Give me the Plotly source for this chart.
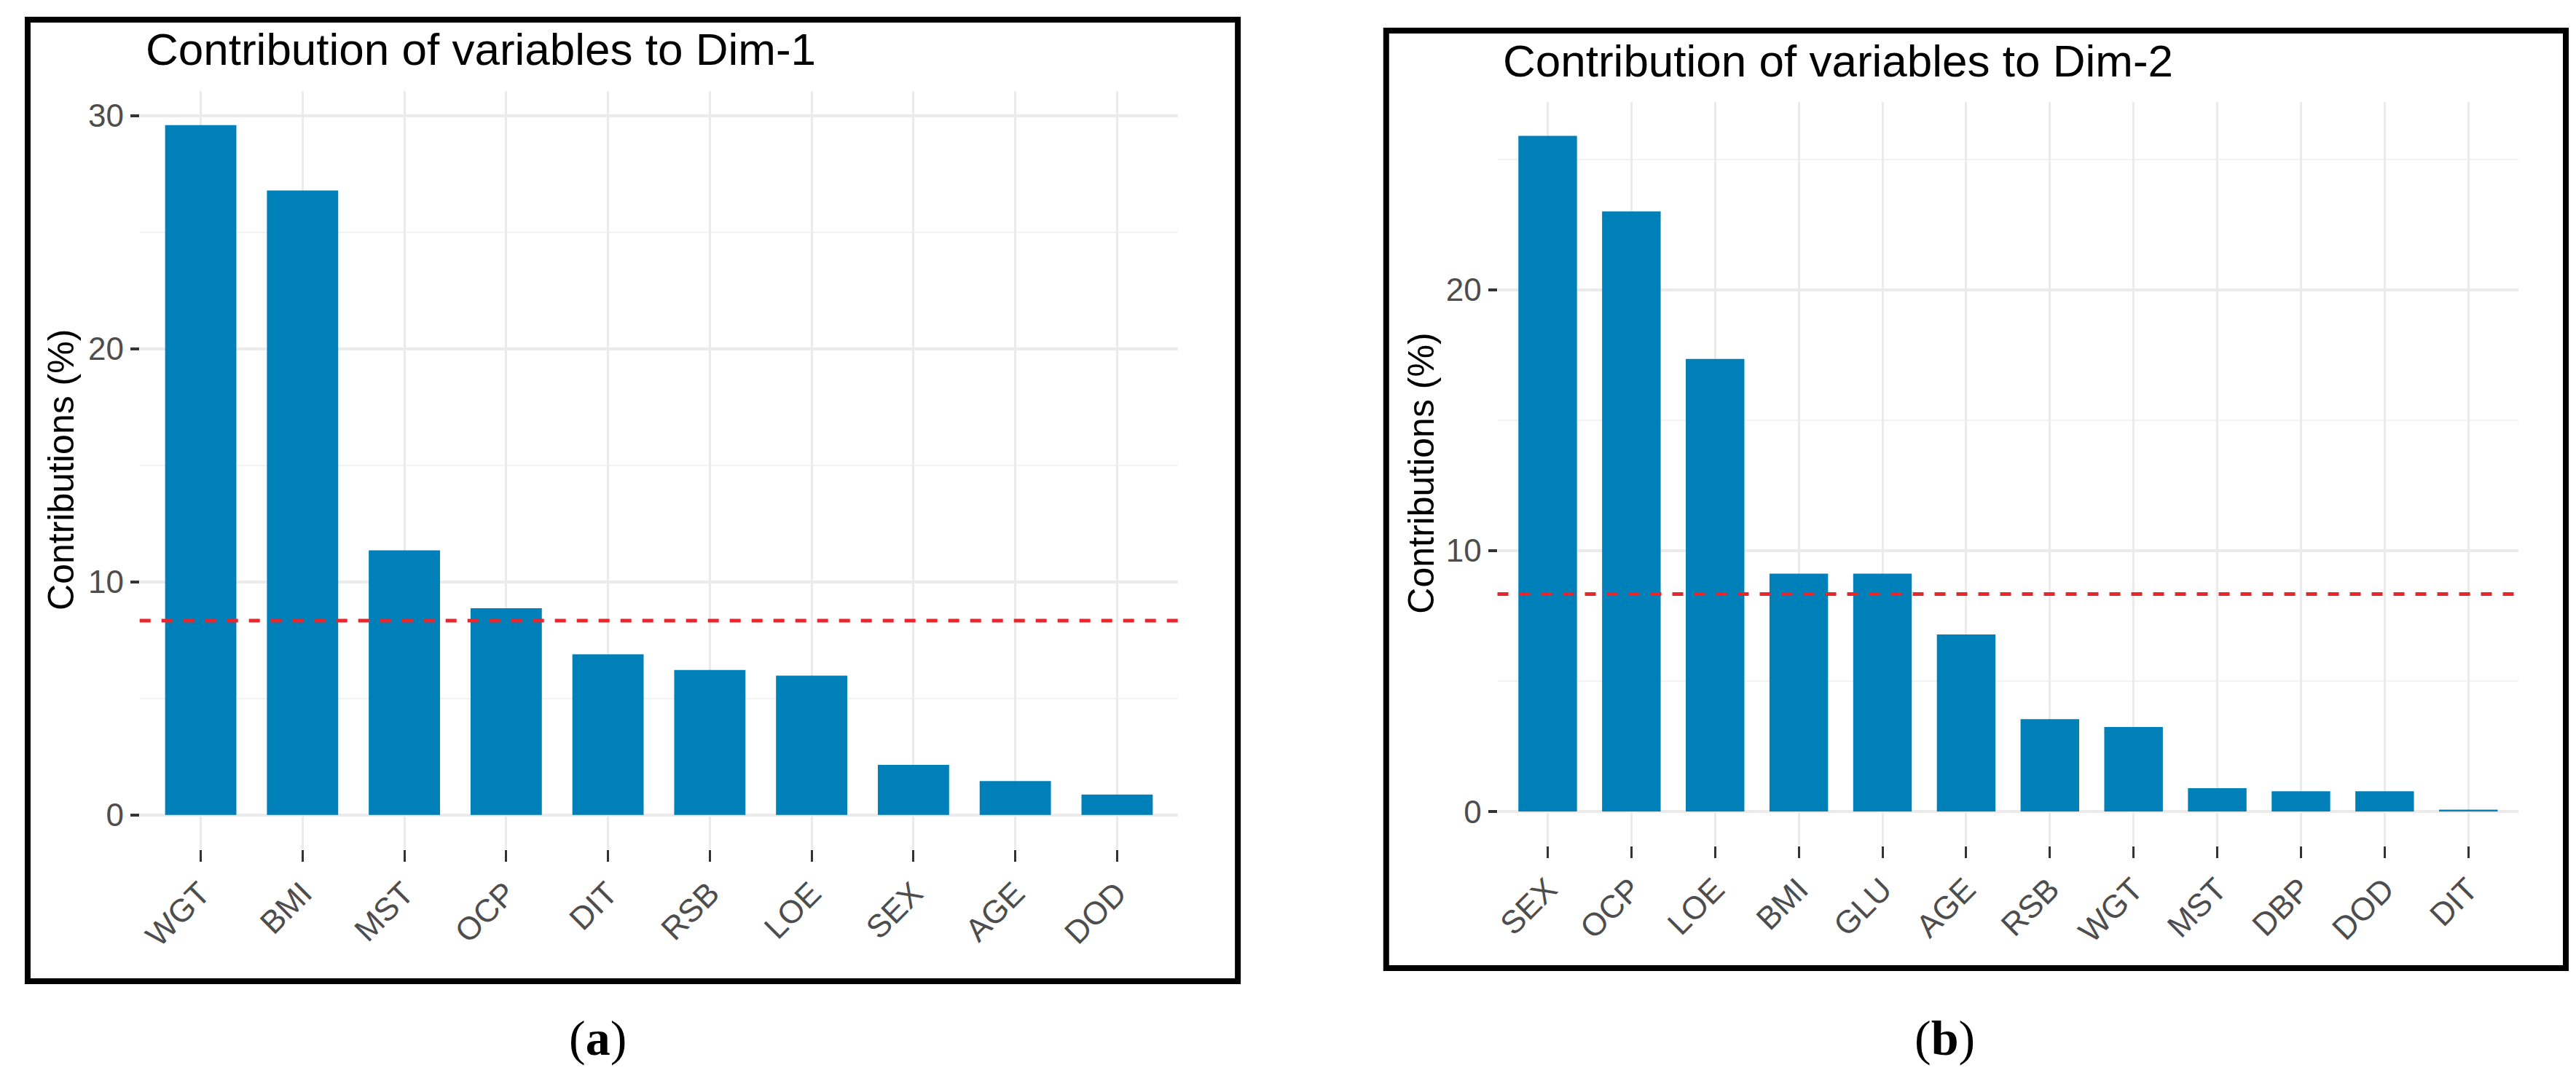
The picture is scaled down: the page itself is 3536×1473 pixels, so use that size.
import plotly.graph_objects as go

# ---------------- data ----------------
vars_dim1 = ["WGT", "BMI", "MST", "OCP", "DIT", "RSB", "LOE", "SEX", "AGE", "DOD"]
contrib_dim1 = [29.6, 26.8, 11.35, 8.87, 6.89, 6.22, 5.98, 2.15, 1.45, 0.87]

vars_dim2 = ["SEX", "OCP", "LOE", "BMI", "GLU", "AGE", "RSB", "WGT", "MST", "DBP", "DOD", "DIT"]
contrib_dim2 = [25.9, 23.0, 17.35, 9.12, 9.12, 6.79, 3.54, 3.24, 0.90, 0.78, 0.78, 0.07]

n_variables = 12
expected_contrib = 100.0 / n_variables

title_dim1 = "Contribution of variables to Dim-1"
title_dim2 = "Contribution of variables to Dim-2"
y_title = "Contributions (%)"

# ---------------- layout helpers ----------------
W, H = 3536, 1473
BAR = "#0080B8"
GRID = "#EBEBEB"
FONT = "Liberation Sans, Arial, sans-serif"


def px(x):
    return x / W


def py(y):
    return 1 - y / H


fig = go.Figure()

fig.add_trace(go.Bar(x=vars_dim1, y=contrib_dim1, width=0.7, marker=dict(color=BAR, line=dict(width=0)),
                     xaxis="x", yaxis="y", showlegend=False))
fig.add_trace(go.Bar(x=vars_dim2, y=contrib_dim2, width=0.7, marker=dict(color=BAR, line=dict(width=0)),
                     xaxis="x2", yaxis="y2", showlegend=False))


def xaxis_cfg(domain, anchor, n):
    return dict(domain=domain, anchor=anchor, type="category", range=[-0.6, n - 1 + 0.6],
                showgrid=True, gridcolor=GRID, gridwidth=3, zeroline=False, showline=False,
                ticks="outside", ticklen=16, tickwidth=3, tickcolor="#333333",
                tickangle=-45, tickfont=dict(family=FONT, size=44, color="#4D4D4D"))


def yaxis_cfg(domain, anchor, vals):
    m = max(vals)
    return dict(domain=domain, anchor=anchor, range=[-0.05 * m, 1.05 * m],
                tickvals=[0, 10, 20, 30], showgrid=True, gridcolor=GRID, gridwidth=4,
                zeroline=False, showline=False,
                ticks="outside", ticklen=12, tickwidth=4, tickcolor="#333333",
                tickfont=dict(family=FONT, size=44, color="#4D4D4D"),
                minor=dict(dtick=5, tick0=0, showgrid=True, gridcolor="#F2F2F2", gridwidth=2, ticks=""))


fig.update_layout(
    width=W, height=H,
    margin=dict(l=0, r=0, t=0, b=0),
    paper_bgcolor="white", plot_bgcolor="white",
    xaxis=xaxis_cfg([px(178), px(1606)], "y", len(vars_dim1)),
    yaxis=yaxis_cfg([py(1158), py(116.5)], "x", contrib_dim1),
    xaxis2=xaxis_cfg([px(2045), px(3449)], "y2", len(vars_dim2)),
    yaxis2=yaxis_cfg([py(1152.5), py(132)], "x2", contrib_dim2),
    bargap=0.3,
)

# expected-contribution reference lines
for xr, yr in (("x domain", "y"), ("x2 domain", "y2")):
    fig.add_shape(type="line", xref=xr, yref=yr, x0=0, x1=1, y0=expected_contrib, y1=expected_contrib,
                  line=dict(color="#E8262B", width=5, dash="dash"), layer="above")

# panel borders
fig.add_shape(type="rect", xref="paper", yref="paper", x0=px(24), x1=px(1688), y0=py(1339), y1=py(19),
              line=dict(color="black", width=8), layer="above")
fig.add_shape(type="rect", xref="paper", yref="paper", x0=px(1892), x1=px(3514), y0=py(1321), y1=py(34),
              line=dict(color="black", width=8), layer="above")

# titles
fig.add_annotation(text=title_dim1, xref="paper", yref="paper", x=px(184), y=py(60), xanchor="left",
                   yanchor="middle", showarrow=False, font=dict(family=FONT, size=62, color="black"))
fig.add_annotation(text=title_dim2, xref="paper", yref="paper", x=px(2050), y=py(76), xanchor="left",
                   yanchor="middle", showarrow=False, font=dict(family=FONT, size=62, color="black"))

# y axis titles
fig.add_annotation(text=y_title, xref="paper", yref="paper", x=px(70), y=py(637), textangle=-90,
                   xanchor="center", yanchor="middle", showarrow=False,
                   font=dict(family=FONT, size=50, color="black"))
fig.add_annotation(text=y_title, xref="paper", yref="paper", x=px(1940), y=py(642), textangle=-90,
                   xanchor="center", yanchor="middle", showarrow=False,
                   font=dict(family=FONT, size=50, color="black"))

# sub-figure labels
fig.add_annotation(text="(<b>a</b>)", xref="paper", yref="paper", x=px(808), y=py(1417),
                   xanchor="center", yanchor="middle", showarrow=False,
                   font=dict(family="Liberation Serif, DejaVu Serif, serif", size=68, color="black"))
fig.add_annotation(text="(<b>b</b>)", xref="paper", yref="paper", x=px(2660), y=py(1417),
                   xanchor="center", yanchor="middle", showarrow=False,
                   font=dict(family="Liberation Serif, DejaVu Serif, serif", size=68, color="black"))

fig.write_html("out.html")
